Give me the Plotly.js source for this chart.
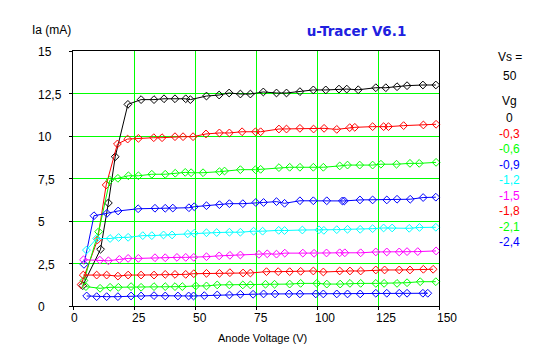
<!DOCTYPE html>
<html>
<head>
<meta charset="utf-8">
<script src="https://cdn.plot.ly/plotly-3.0.1.min.js"></script>
<style>
html,body{margin:0;padding:0;background:#fff;}
#chart{width:547px;height:357px;}
</style>
</head>
<body>
<div id="chart"></div>
<script>
// Anode voltage (V) and anode current (mA) per grid voltage
const vg0V = [4.0, 11.3, 14.5, 17.3, 22.5, 27.9, 33.2, 37.3, 41.8, 46.2, 48.1, 54.7, 59.9, 64.0, 68.6, 72.7, 78.0, 83.4, 87.5, 93.0, 98.5, 103.6, 109.0, 112.2, 116.9, 124.1, 128.2, 132.8, 136.9, 143.4, 148.7];
const vg0I = [1.2, 3.34, 6.06, 8.78, 11.86, 12.14, 12.14, 12.19, 12.19, 12.19, 12.14, 12.35, 12.41, 12.53, 12.47, 12.47, 12.59, 12.53, 12.53, 12.61, 12.71, 12.71, 12.76, 12.76, 12.72, 12.84, 12.84, 12.9, 12.96, 13.0, 13.0];

const vgm03V = [3.3, 10.1, 13.6, 18.2, 22.4, 26.8, 33.1, 36.5, 41.8, 45.1, 49.2, 54.5, 60.0, 64.1, 69.3, 74.8, 76.9, 84.4, 87.5, 93.0, 98.6, 102.9, 108.1, 113.4, 115.5, 122.8, 127.3, 129.3, 135.5, 143.6, 148.8];
const vgm03I = [1.26, 3.9, 7.12, 9.53, 9.82, 9.86, 9.9, 9.9, 9.96, 9.96, 9.96, 10.12, 10.18, 10.18, 10.25, 10.25, 10.25, 10.41, 10.41, 10.45, 10.41, 10.45, 10.39, 10.49, 10.51, 10.55, 10.55, 10.55, 10.61, 10.65, 10.69];

const vgm06V = [4.5, 10.5, 15.1, 18.4, 22.7, 26.8, 32.3, 37.8, 41.9, 46.0, 48.4, 53.3, 60.0, 62.1, 68.6, 74.8, 76.9, 84.4, 88.8, 93.0, 98.5, 102.6, 109.3, 112.5, 117.5, 122.8, 126.2, 132.6, 138.1, 141.9, 148.8];
const vgm06I = [1.5, 4.37, 7.4, 7.51, 7.66, 7.66, 7.75, 7.75, 7.81, 7.86, 7.84, 7.84, 7.9, 7.94, 8.02, 8.02, 8.04, 8.14, 8.16, 8.16, 8.16, 8.16, 8.24, 8.29, 8.29, 8.29, 8.34, 8.34, 8.39, 8.39, 8.45];

const vgm09V = [4.5, 8.6, 13.9, 18.5, 26.7, 33.6, 37.8, 40.9, 47.5, 49.7, 54.7, 60.0, 64.1, 69.6, 74.9, 78.1, 83.4, 86.7, 93.0, 98.5, 104.0, 110.4, 111.2, 117.6, 122.8, 128.6, 132.8, 138.2, 143.5, 148.7];
const vgm09I = [2.45, 5.31, 5.45, 5.59, 5.72, 5.75, 5.75, 5.76, 5.78, 5.84, 5.9, 5.96, 6.02, 6.02, 6.09, 6.09, 6.14, 6.04, 6.19, 6.19, 6.19, 6.18, 6.18, 6.24, 6.24, 6.24, 6.28, 6.28, 6.38, 6.4];

const vgm12V = [5.5, 9.7, 15.2, 18.7, 22.6, 28.6, 32.3, 37.1, 40.6, 47.0, 49.7, 54.7, 58.9, 64.1, 68.6, 74.0, 77.7, 84.3, 86.7, 94.0, 100.8, 102.8, 108.1, 112.5, 117.7, 122.8, 127.3, 130.8, 137.8, 142.0, 148.7];
const vgm12I = [3.29, 3.97, 3.97, 4.03, 4.04, 4.14, 4.14, 4.18, 4.18, 4.24, 4.28, 4.31, 4.32, 4.34, 4.34, 4.4, 4.4, 4.45, 4.44, 4.47, 4.48, 4.45, 4.49, 4.51, 4.51, 4.55, 4.59, 4.59, 4.57, 4.62, 4.63];

const vgm15V = [4.3, 11.0, 14.5, 19.0, 22.6, 26.8, 33.6, 37.8, 42.6, 46.2, 49.5, 54.7, 59.9, 64.3, 68.6, 76.2, 79.6, 83.4, 86.8, 94.2, 98.8, 103.9, 109.3, 111.4, 117.9, 124.1, 128.6, 133.7, 136.9, 141.3, 148.8];
const vgm15I = [2.72, 2.7, 2.66, 2.74, 2.8, 2.8, 2.84, 2.84, 2.86, 2.86, 2.86, 2.9, 2.95, 2.98, 3.0, 3.04, 3.07, 3.05, 3.11, 3.11, 3.1, 3.12, 3.13, 3.13, 3.13, 3.18, 3.18, 3.18, 3.2, 3.2, 3.24];

const vgm18V = [4.2, 9.7, 13.8, 18.4, 22.6, 27.9, 33.2, 37.8, 41.8, 46.2, 49.5, 54.7, 60.0, 64.3, 69.7, 72.7, 79.3, 84.1, 88.8, 93.3, 98.5, 102.6, 109.3, 113.5, 117.9, 124.1, 127.7, 133.7, 138.1, 143.6, 147.6];
const vgm18I = [1.82, 1.82, 1.82, 1.76, 1.82, 1.82, 1.82, 1.86, 1.86, 1.86, 1.9, 1.92, 1.92, 1.96, 1.94, 1.94, 2.02, 2.02, 2.02, 2.04, 2.06, 2.0, 2.06, 2.06, 2.06, 2.12, 2.12, 2.12, 2.12, 2.16, 2.16];

const vgm21V = [5.3, 11.1, 15.2, 18.6, 23.8, 27.9, 33.2, 37.8, 41.8, 44.8, 50.3, 54.7, 59.1, 64.1, 69.6, 72.7, 78.9, 82.6, 88.8, 93.3, 99.9, 104.0, 109.5, 113.5, 117.9, 124.1, 127.5, 132.8, 136.9, 142.3, 148.7];
const vgm21I = [1.14, 1.04, 1.1, 1.1, 1.14, 1.1, 1.14, 1.14, 1.14, 1.14, 1.18, 1.18, 1.24, 1.24, 1.24, 1.24, 1.28, 1.28, 1.29, 1.33, 1.33, 1.29, 1.29, 1.33, 1.33, 1.33, 1.33, 1.33, 1.37, 1.43, 1.43];

const vgm24V = [5.6, 9.7, 13.8, 18.4, 23.8, 27.9, 33.2, 37.8, 43.0, 47.4, 49.4, 53.8, 59.1, 64.1, 68.6, 73.8, 78.1, 82.8, 88.5, 93.0, 99.5, 102.6, 108.1, 112.5, 117.7, 124.1, 128.6, 133.7, 136.9, 143.4, 145.4];
const vgm24I = [0.59, 0.55, 0.55, 0.55, 0.59, 0.59, 0.61, 0.59, 0.59, 0.59, 0.59, 0.61, 0.65, 0.65, 0.69, 0.69, 0.71, 0.71, 0.71, 0.71, 0.71, 0.71, 0.71, 0.71, 0.71, 0.75, 0.75, 0.75, 0.75, 0.75, 0.75];

const vgLabels = ['0', '-0,3', '-0,6', '-0,9', '-1,2', '-1,5', '-1,8', '-2,1', '-2,4'];
const seriesColors = ['#000000', '#ff0000', '#00ff00', '#0000ff', '#00ffff', '#ff00ff', '#ff0000', '#00ff00', '#0000ff'];
const xTickVals = [0, 25, 50, 75, 100, 125, 150];
const xTickText = ['0', '25', '50', '75', '100', '125', '150'];
const yTickVals = [0, 2.5, 5, 7.5, 10, 12.5, 15];
const yTickText = ['0', '2,5', '5', '7,5', '10', '12,5', '15'];
const vsLabel = 'Vs =';
const vsValue = '50';
const vgTitle = 'Vg';

const seriesV = [vg0V, vgm03V, vgm06V, vgm09V, vgm12V, vgm15V, vgm18V, vgm21V, vgm24V];
const seriesI = [vg0I, vgm03I, vgm06I, vgm09I, vgm12I, vgm15I, vgm18I, vgm21I, vgm24I];

const FONT = 'Liberation Sans, Arial, sans-serif';

const traces = seriesV.map((v, k) => ({
  x: v, y: seriesI[k], type: 'scatter', mode: 'lines+markers',
  name: vgLabels[k],
  line: {color: seriesColors[k], width: 1},
  marker: {symbol: 'diamond-open', size: 6, color: seriesColors[k], line: {width: 1, color: seriesColors[k]}},
  cliponaxis: false
}));

// plot area in px: left 73, right 439, top 51, bottom 306
const L = 73, R = 439, T = 51, B = 306;
const W = R - L, H = B - T;
const px2paperX = p => (p - L) / W;
const px2paperY = p => (B - p) / H;

const annotations = [];
yTickVals.forEach((v, i) => annotations.push({
  xref: 'paper', yref: 'y', x: px2paperX(36), y: v, xanchor: 'left', yanchor: 'middle',
  text: yTickText[i], showarrow: false, yshift: -1,
  font: {family: FONT, size: 12, color: '#000'}
}));
xTickVals.forEach((v, i) => annotations.push({
  xref: 'x', yref: 'paper', x: v, y: px2paperY(318), xanchor: 'left', yanchor: 'middle',
  text: xTickText[i], showarrow: false, xshift: -4,
  font: {family: FONT, size: 12, color: '#000'}
}));
annotations.push({
  xref: 'paper', yref: 'paper', x: px2paperX(262), y: px2paperY(338), xanchor: 'center', yanchor: 'middle',
  text: 'Anode Voltage (V)', showarrow: false, font: {family: FONT, size: 11, color: '#000'}
});
annotations.push({
  xref: 'paper', yref: 'paper', x: px2paperX(30), y: px2paperY(30), xanchor: 'left', yanchor: 'middle',
  text: 'Ia (mA)', showarrow: false, font: {family: FONT, size: 12, color: '#000'}
});
const legX = px2paperX(509.5);
annotations.push({xref: 'paper', yref: 'paper', x: legX, y: px2paperY(57), xanchor: 'center', yanchor: 'middle',
  text: vsLabel, showarrow: false, font: {family: FONT, size: 12, color: '#000'}});
annotations.push({xref: 'paper', yref: 'paper', x: legX, y: px2paperY(76), xanchor: 'center', yanchor: 'middle',
  text: vsValue, showarrow: false, font: {family: FONT, size: 12, color: '#000'}});
annotations.push({xref: 'paper', yref: 'paper', x: legX, y: px2paperY(101), xanchor: 'center', yanchor: 'middle',
  text: vgTitle, showarrow: false, font: {family: FONT, size: 12, color: '#000'}});
vgLabels.forEach((lab, k) => annotations.push({
  xref: 'paper', yref: 'paper', x: legX, y: px2paperY(118 + 15.5 * k), xanchor: 'center', yanchor: 'middle',
  text: lab, showarrow: false, font: {family: FONT, size: 12, color: seriesColors[k]}
}));

const layout = {
  width: 547, height: 357,
  margin: {l: L, r: 547 - R, t: T, b: 357 - B, pad: 0},
  paper_bgcolor: '#ffffff', plot_bgcolor: '#ffffff',
  showlegend: false,
  title: {text: '<b>u-Tracer V6.1</b>', xref: 'container', yref: 'container', x: 356.5 / 547, xanchor: 'center',
    y: 1 - 31 / 357, yanchor: 'middle', font: {family: 'DejaVu Sans, sans-serif', size: 13.5, color: '#2020e0'}},
  xaxis: {range: [0, 150], tickvals: xTickVals, showticklabels: false, ticks: 'outside', ticklen: 3, tickcolor: '#000',
    showgrid: true, gridcolor: '#00ff00', gridwidth: 1, zeroline: false,
    showline: true, linecolor: '#000', linewidth: 1, mirror: true, fixedrange: true},
  yaxis: {range: [0, 15], tickvals: yTickVals, showticklabels: false, ticks: 'outside', ticklen: 3, tickcolor: '#000',
    showgrid: true, gridcolor: '#00ff00', gridwidth: 1, zeroline: false,
    showline: true, linecolor: '#000', linewidth: 1, mirror: true, fixedrange: true},
  annotations: annotations
};

Plotly.newPlot('chart', traces, layout, {displayModeBar: false, staticPlot: true});
</script>
</body>
</html>
